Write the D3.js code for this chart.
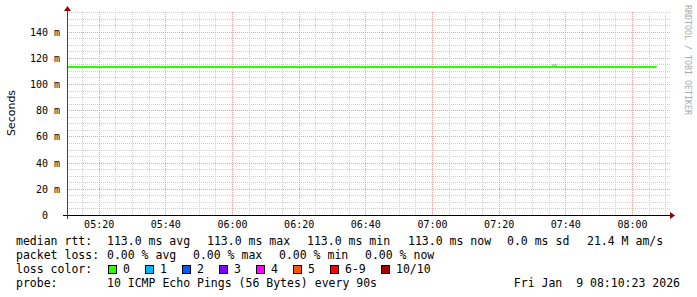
<!DOCTYPE html>
<html>
<head>
<meta charset="utf-8">
<script src="https://cdn.jsdelivr.net/npm/d3@7"></script>
<style>
  body { margin: 0; background: #fff; }
  text { white-space: pre; }
</style>
</head>
<body>
<script>
// data
const day = "2026-01-09";
const timeStart = "05:10:30", timeEnd = "08:10:30";
const rttTimes = ["05:10:30", "08:07:25"];
const rttValues = [113.0, 113.0];            // ms
const smokeTimes = ["07:36:00", "07:37:30"];
const smokeValues = [114.5, 114.5];
const yMajor = [0, 20, 40, 60, 80, 100, 120, 140];
const yLabels = ["0  ", "20 m", "40 m", "60 m", "80 m", "100 m", "120 m", "140 m"];
const yMax = 155;

const rttRow = ["median rtt:", "113.0 ms avg", "113.0 ms max", "113.0 ms min", "113.0 ms now", "0.0 ms sd", "21.4 M am/s"];
const lossRow = ["packet loss:", "0.00 % avg", "0.00 % max", "0.00 % min", "0.00 % now"];
const lossNames = ["0", "1", "2", "3", "4", "5", "6-9", "10/10"];
const lossColors = ["#26ff00", "#00b8ff", "#0059ff", "#7a00ff", "#ff00ff", "#ff5500", "#ff0000", "#a10000"];
const probeText = "10 ICMP Echo Pings (56 Bytes) every 90s";
const stamp = "Fri Jan  9 08:10:23 2026";

const parse = d3.timeParse("%Y-%m-%d %H:%M:%S");
const T = s => parse(day + " " + s);

const svg = d3.select("body").append("svg")
  .attr("width", 697).attr("height", 297);

const pl = 67, pr = 667, pt = 12, pb = 215;
const x = d3.scaleTime().domain([T(timeStart), T(timeEnd)]).range([pl, pr]);
const y = d3.scaleLinear().domain([0, yMax]).range([pb, pt]);

// grid
const grid = svg.append("g").attr("shape-rendering", "crispEdges");
const minorX = d3.timeMinute.every(5).range(T(timeStart), T(timeEnd));
const majorX = d3.timeMinute.every(20).range(T(timeStart), T(timeEnd));
const minorY = d3.range(5, yMax + 1, 5);

grid.selectAll(".mx").data(minorX).join("line")
  .attr("x1", d => Math.round(x(d)) + 0.5).attr("x2", d => Math.round(x(d)) + 0.5)
  .attr("y1", pt).attr("y2", pb)
  .attr("stroke", "#cfcfcf").attr("stroke-dasharray", "1,1");
grid.selectAll(".my").data(minorY).join("line")
  .attr("x1", pl).attr("x2", pr + 3)
  .attr("y1", d => Math.round(y(d)) + 0.5).attr("y2", d => Math.round(y(d)) + 0.5)
  .attr("stroke", "#cfcfcf").attr("stroke-dasharray", "1,1");
grid.selectAll(".Mx").data(majorX).join("line")
  .attr("x1", d => Math.round(x(d)) + 0.5).attr("x2", d => Math.round(x(d)) + 0.5)
  .attr("y1", pt).attr("y2", pb)
  .attr("stroke", "#eca0a0").attr("stroke-dasharray", "1,1");
grid.selectAll(".My").data(yMajor.slice(1)).join("line")
  .attr("x1", pl).attr("x2", pr + 3)
  .attr("y1", d => Math.round(y(d)) + 0.5).attr("y2", d => Math.round(y(d)) + 0.5)
  .attr("stroke", "#eca0a0").attr("stroke-dasharray", "1,1");

// smoke + median line
const smoke = smokeTimes.map((t, i) => [T(t), smokeValues[i]]);
svg.append("path").datum(smoke)
  .attr("d", d3.line().x(d => x(d[0])).y(d => y(d[1])))
  .attr("stroke", "#999").attr("stroke-width", 1).attr("fill", "none");

const rtt = rttTimes.map((t, i) => [T(t), rttValues[i]]);
svg.append("path").datum(rtt)
  .attr("d", d3.line().x(d => x(d[0])).y(d => y(d[1])))
  .attr("stroke", lossColors[0]).attr("stroke-width", 2).attr("fill", "none");

// axes
svg.append("line").attr("x1", pl - 4).attr("x2", pr + 4)
  .attr("y1", pb + 0.5).attr("y2", pb + 0.5)
  .attr("stroke", "#000").attr("shape-rendering", "crispEdges");
svg.append("line").attr("x1", pl + 0.5).attr("x2", pl + 0.5)
  .attr("y1", pb + 4).attr("y2", pt - 2)
  .attr("stroke", "#444").attr("shape-rendering", "crispEdges");
svg.append("path").attr("d", `M${pr + 3},${pb - 3}L${pr + 8},${pb + 0.5}L${pr + 3},${pb + 4}Z`)
  .attr("fill", "#900000");
svg.append("path").attr("d", `M${pl - 3},${pt - 1}L${pl + 0.5},${pt - 6}L${pl + 4},${pt - 1}Z`)
  .attr("fill", "#900000");

// tick labels
const mono = "'DejaVu Sans Mono', monospace";
svg.selectAll(".yl").data(yMajor).join("text")
  .attr("x", 60).attr("y", d => y(d) + 4)
  .attr("text-anchor", "end").attr("font-family", mono).attr("font-size", 10)
  .attr("fill", "#000").text((d, i) => yLabels[i]);

svg.selectAll(".xl").data(majorX).join("text")
  .attr("x", d => x(d) + 0.5).attr("y", 228)
  .attr("text-anchor", "middle").attr("font-family", mono).attr("font-size", 10)
  .attr("fill", "#000").text(d3.timeFormat("%H:%M"));

svg.append("text")
  .attr("transform", "translate(15,113) rotate(-90)")
  .attr("text-anchor", "middle").attr("font-family", "'DejaVu Sans', sans-serif")
  .attr("font-size", 11).text("Seconds");

svg.append("text")
  .attr("transform", "translate(685,5) rotate(90)")
  .attr("font-family", mono).attr("font-size", 8.3)
  .attr("fill", "#aaa").text("RRDTOOL / TOBI OETIKER");

// legend
const fs = 11.5;
const rttX = [16, 107, 207, 307, 408, 507, 587];
svg.selectAll(".r1").data(rttRow).join("text")
  .attr("x", (d, i) => rttX[i]).attr("y", 245)
  .attr("font-family", mono).attr("font-size", fs).text(d => d);

const lossX = [16, 107, 193, 279, 365];
svg.selectAll(".r2").data(lossRow).join("text")
  .attr("x", (d, i) => lossX[i]).attr("y", 259)
  .attr("font-family", mono).attr("font-size", fs).text(d => d);

svg.append("text").attr("x", 16).attr("y", 273)
  .attr("font-family", mono).attr("font-size", fs).text("loss color:");
let lx = 108;
lossNames.forEach((n, i) => {
  svg.append("rect").attr("x", lx + 0.5).attr("y", 265.5).attr("width", 8).attr("height", 8)
    .attr("fill", lossColors[i]).attr("stroke", "#000").attr("shape-rendering", "crispEdges");
  svg.append("text").attr("x", lx + 15).attr("y", 273)
    .attr("font-family", mono).attr("font-size", fs).text(n);
  lx += 15 + n.length * 7 + 15;
});

svg.append("text").attr("x", 16).attr("y", 287)
  .attr("font-family", mono).attr("font-size", fs).text("probe:");
svg.append("text").attr("x", 107).attr("y", 287)
  .attr("font-family", mono).attr("font-size", fs).text(probeText);
svg.append("text").attr("x", 680).attr("y", 287).attr("text-anchor", "end")
  .attr("font-family", mono).attr("font-size", fs).text(stamp);
</script>
</body>
</html>
